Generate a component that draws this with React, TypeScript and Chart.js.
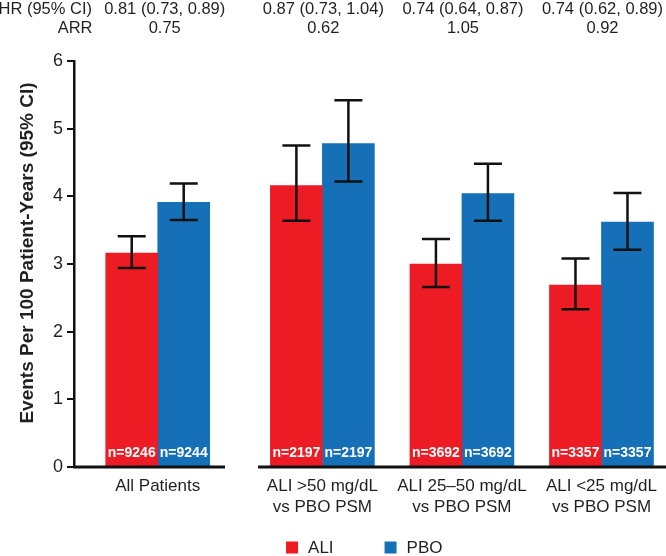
import React, { useEffect, useRef } from "react";
import { Chart, registerables } from "chart.js";

Chart.register(...registerables);

// ---- data ----
const categories: string[][] = [
  ["All Patients"],
  ["ALI >50 mg/dL", "vs PBO PSM"],
  ["ALI 25–50 mg/dL", "vs PBO PSM"],
  ["ALI <25 mg/dL", "vs PBO PSM"],
];
const aliRate = [3.16, 4.16, 3.0, 2.69];
const aliLow = [2.94, 3.64, 2.66, 2.33];
const aliHigh = [3.41, 4.75, 3.37, 3.08];
const pboRate = [3.91, 4.78, 4.04, 3.62];
const pboLow = [3.65, 4.22, 3.64, 3.21];
const pboHigh = [4.19, 5.42, 4.48, 4.05];
const aliN = [9246, 2197, 3692, 3357];
const pboN = [9244, 2197, 3692, 3357];
const hrText = ["0.81 (0.73, 0.89)", "0.87 (0.73, 1.04)", "0.74 (0.64, 0.87)", "0.74 (0.62, 0.89)"];
const arrText = ["0.75", "0.62", "1.05", "0.92"];
const yTitle = "Events Per 100 Patient-Years (95% CI)";

// ---- layout / style ----
const breakGap = 0.18; // extra space after the first (overall) group
const xPos = (i: number) => i + (i > 0 ? breakGap : 0);
const RED = "#ED1C24";
const BLUE = "#1570B7";
const TEXT = "#231F20";
const FONT = '"Liberation Sans", Arial, Helvetica, sans-serif';

export default function App() {
  const ref = useRef<HTMLCanvasElement>(null);

  useEffect(() => {
    const canvas = ref.current;
    if (!canvas) return;

    const overlay = {
      id: "overlay",
      afterDatasetsDraw(chart: any) {
        const ctx = chart.ctx;
        const ys = chart.scales.y;
        const sets = [
          { low: aliLow, high: aliHigh, n: aliN },
          { low: pboLow, high: pboHigh, n: pboN },
        ];
        sets.forEach((s, di) => {
          const meta = chart.getDatasetMeta(di);
          meta.data.forEach((bar: any, j: number) => {
            const x = bar.x;
            const yl = ys.getPixelForValue(s.low[j]);
            const yh = ys.getPixelForValue(s.high[j]);
            ctx.save();
            ctx.strokeStyle = "#111";
            ctx.lineWidth = 2.5;
            ctx.beginPath();
            ctx.moveTo(x, yl);
            ctx.lineTo(x, yh);
            ctx.moveTo(x - 14, yl);
            ctx.lineTo(x + 14, yl);
            ctx.moveTo(x - 14, yh);
            ctx.lineTo(x + 14, yh);
            ctx.stroke();
            ctx.fillStyle = "#ffffff";
            ctx.font = `bold 14px ${FONT}`;
            ctx.textAlign = "center";
            ctx.textBaseline = "middle";
            ctx.fillText(`n=${s.n[j]}`, x, ys.getPixelForValue(0) - 13.5);
            ctx.restore();
          });
        });
      },
      afterDraw(chart: any) {
        const ctx = chart.ctx;
        const xs = chart.scales.x;
        const ys = chart.scales.y;
        const area = chart.chartArea;
        ctx.save();

        // broken x axis
        const y0 = ys.getPixelForValue(0);
        const mid = (xs.getPixelForValue(xPos(0)) + xs.getPixelForValue(xPos(1))) / 2;
        ctx.strokeStyle = "#111";
        ctx.lineWidth = 3;
        ctx.beginPath();
        ctx.moveTo(area.left - 1, y0);
        ctx.lineTo(mid - 15, y0);
        ctx.moveTo(mid + 18, y0);
        ctx.lineTo(chart.width, y0);
        ctx.stroke();

        // header rows
        ctx.fillStyle = TEXT;
        ctx.font = `16.5px ${FONT}`;
        ctx.textBaseline = "alphabetic";
        ctx.textAlign = "right";
        ctx.fillText("HR (95% CI)", 92, 14);
        ctx.fillText("ARR", 92.5, 32.5);
        ctx.textAlign = "center";
        categories.forEach((_, i) => {
          const x = xs.getPixelForValue(xPos(i)) + (i === 0 ? 7 : 1);
          ctx.fillText(hrText[i], x, 14);
          ctx.fillText(arrText[i], x, 32.5);
        });

        // legend
        const legendY = 547.5;
        let lx = (area.left + area.right) / 2 - 81;
        ctx.font = `17px ${FONT}`;
        ctx.textAlign = "left";
        ctx.textBaseline = "middle";
        chart.data.datasets.forEach((ds: any) => {
          ctx.fillStyle = ds.backgroundColor;
          ctx.fillRect(lx, legendY - 6, 12, 12);
          ctx.fillStyle = TEXT;
          ctx.fillText(ds.label, lx + 22, legendY + 0.5);
          lx += 22 + ctx.measureText(ds.label).width + 51;
        });

        // y axis title
        ctx.translate(27.5, 253);
        ctx.rotate(-Math.PI / 2);
        ctx.font = `bold 19px ${FONT}`;
        ctx.textAlign = "center";
        ctx.textBaseline = "middle";
        ctx.fillStyle = TEXT;
        ctx.fillText(yTitle, 0, 0);
        ctx.restore();
      },
    };

    const chart = new Chart(canvas, {
      type: "bar",
      data: {
        datasets: [
          {
            label: "ALI",
            data: aliRate.map((v, i) => ({ x: xPos(i), y: v })),
            backgroundColor: RED,
            borderWidth: 0,
            barThickness: 52,
          },
          {
            label: "PBO",
            data: pboRate.map((v, i) => ({ x: xPos(i), y: v })),
            backgroundColor: BLUE,
            borderWidth: 0,
            barThickness: 52,
          },
        ],
      },
      options: {
        animation: false,
        responsive: false,
        devicePixelRatio: 1,
        layout: { padding: { top: 61, left: 0, right: 0, bottom: 0 } },
        plugins: {
          legend: { display: false },
          tooltip: { enabled: false },
        },
        scales: {
          x: {
            type: "linear",
            min: -0.6,
            max: 3.6,
            offset: false,
            grid: { display: false, drawTicks: false, offset: false },
            border: { display: false },
            afterBuildTicks: (s: any) => {
              s.ticks = categories.map((_, i) => ({ value: xPos(i) }));
            },
            afterFit: (s: any) => {
              s.height = 89;
            },
            ticks: {
              autoSkip: false,
              maxRotation: 0,
              minRotation: 0,
              padding: 9,
              color: TEXT,
              font: { family: FONT, size: 17, lineHeight: 1.22 },
              callback: (_v: any, index: number) => categories[index],
            },
          },
          y: {
            min: 0,
            max: 6,
            ticks: {
              stepSize: 1,
              padding: 4,
              color: TEXT,
              font: { family: FONT, size: 18 },
            },
            grid: {
              drawOnChartArea: false,
              drawTicks: true,
              tickLength: 7,
              color: "#111",
              lineWidth: 2,
            },
            border: { display: true, color: "#111", width: 2.5 },
            afterFit: (s: any) => {
              s.width = 74;
            },
          },
        },
      } as any,
      plugins: [overlay],
    });

    return () => chart.destroy();
  }, []);

  return (
    <div style={{ position: "fixed", left: 0, top: 0, width: 666, height: 556, background: "#fff" }}>
      <canvas ref={ref} width={666} height={556} style={{ display: "block" }} />
    </div>
  );
}
